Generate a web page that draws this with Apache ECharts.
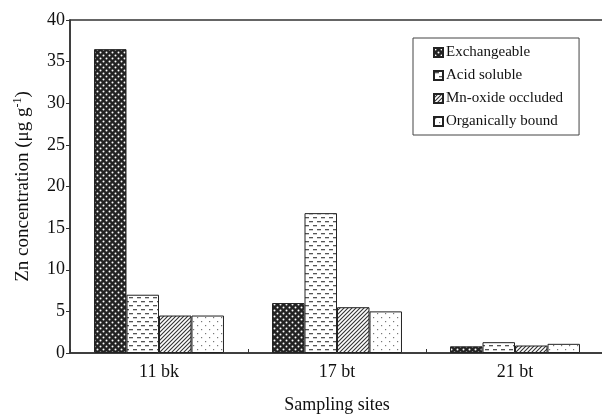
<!DOCTYPE html>
<html>
<head>
<meta charset="utf-8">
<script src="https://cdn.jsdelivr.net/npm/echarts@6/dist/echarts.min.js"></script>
<style>
  html, body { margin: 0; padding: 0; background: #fff; }
  #chart { width: 602px; height: 416px; }
</style>
</head>
<body>
<div id="chart"></div>
<script>
// Sampling sites and Zn fractions (µg g-1)
const sites = ['11 bk', '17 bt', '21 bt'];
const exchangeable = [36.5, 6.0, 0.8];
const acidSoluble = [7.0, 16.8, 1.3];
const mnOxideOccluded = [4.5, 5.5, 0.9];
const organicallyBound = [4.5, 5.0, 1.1];
const yTicks = [0, 5, 10, 15, 20, 25, 30, 35, 40];

// Small repeating tiles used as bar fills
function tile(w, h, draw) {
  const c = document.createElement('canvas');
  c.width = w; c.height = h;
  const ctx = c.getContext('2d');
  draw(ctx, w, h);
  return { image: c, repeat: 'repeat' };
}

const dotsDark = tile(6, 6, (ctx) => {
  ctx.fillStyle = '#222222';
  ctx.fillRect(0, 0, 6, 6);
  ctx.fillStyle = '#ffffff';
  ctx.beginPath(); ctx.arc(1.5, 1.5, 1.0, 0, Math.PI * 2); ctx.fill();
  ctx.beginPath(); ctx.arc(4.5, 4.5, 1.0, 0, Math.PI * 2); ctx.fill();
});

const dashes = tile(8, 8, (ctx) => {
  ctx.fillStyle = '#ffffff';
  ctx.fillRect(0, 0, 8, 8);
  ctx.fillStyle = '#555555';
  ctx.fillRect(1, 1, 4, 1.3);
  ctx.fillRect(5, 5, 3, 1.3);
  ctx.fillRect(0, 5, 1, 1.3);
});

const hatch = tile(4, 4, (ctx) => {
  ctx.fillStyle = '#ffffff';
  ctx.fillRect(0, 0, 4, 4);
  ctx.strokeStyle = '#333333';
  ctx.lineWidth = 1.1;
  ctx.beginPath();
  ctx.moveTo(-1, 5); ctx.lineTo(5, -1);
  ctx.moveTo(-1, 1); ctx.lineTo(1, -1);
  ctx.moveTo(3, 5); ctx.lineTo(5, 3);
  ctx.stroke();
});

const sparseDots = tile(8, 8, (ctx) => {
  ctx.fillStyle = '#ffffff';
  ctx.fillRect(0, 0, 8, 8);
  ctx.fillStyle = '#777777';
  ctx.fillRect(1, 1, 1.2, 1.2);
  ctx.fillRect(5, 5, 1.2, 1.2);
});

const serif = 'Liberation Serif';

function barSeries(name, data, fill) {
  return {
    name: name,
    type: 'bar',
    data: data,
    barGap: '0%',
    barCategoryGap: '27%',
    itemStyle: { color: fill, borderColor: '#222', borderWidth: 1 },
    emphasis: { disabled: true }
  };
}

const chart = echarts.init(document.getElementById('chart'));
chart.setOption({
  animation: false,
  backgroundColor: '#ffffff',
  grid: {
    left: 70, top: 20, width: 534, height: 333,
    outerBoundsMode: 'none',
    containLabel: false,
    show: true, borderColor: '#333', borderWidth: 1.5
  },
  legend: {
    orient: 'vertical',
    left: 413, top: 38,
    padding: [7, 16, 6, 20],
    borderColor: '#444', borderWidth: 1,
    icon: 'rect',
    itemWidth: 9, itemHeight: 9, itemGap: 8,
    textStyle: { fontFamily: serif, fontSize: 15, color: '#111', padding: [0, 0, 0, -2] },
    data: ['Exchangeable', 'Acid soluble', 'Mn-oxide occluded', 'Organically bound']
  },
  xAxis: {
    type: 'category',
    data: sites,
    name: 'Sampling sites',
    nameLocation: 'middle',
    nameGap: 43,
    nameTextStyle: { fontFamily: serif, fontSize: 18, color: '#111' },
    axisLine: { lineStyle: { color: '#333', width: 1.5 } },
    axisTick: { show: true, inside: true, length: 4, lineStyle: { color: '#333' } },
    axisLabel: { fontFamily: serif, fontSize: 18, color: '#111', margin: 10 }
  },
  yAxis: {
    type: 'value',
    min: yTicks[0],
    max: yTicks[yTicks.length - 1],
    interval: 5,
    name: '{t|Zn concentration (μg g}{s|-1}{t|)}',
    nameLocation: 'middle',
    nameGap: 36,
    nameRotate: 90,
    nameTextStyle: {
      rich: {
        t: { fontFamily: serif, fontSize: 19, color: '#111' },
        s: { fontFamily: serif, fontSize: 12, color: '#111', verticalAlign: 'top', padding: [0, 0, 10, 0] }
      }
    },
    axisLine: { show: true, lineStyle: { color: '#333', width: 1.5 } },
    axisTick: { show: true, length: 4, lineStyle: { color: '#333' } },
    axisLabel: { fontFamily: serif, fontSize: 18, color: '#111', margin: 5 },
    splitLine: { show: false }
  },
  series: [
    barSeries('Exchangeable', exchangeable, dotsDark),
    barSeries('Acid soluble', acidSoluble, dashes),
    barSeries('Mn-oxide occluded', mnOxideOccluded, hatch),
    barSeries('Organically bound', organicallyBound, sparseDots)
  ]
});
</script>
</body>
</html>
